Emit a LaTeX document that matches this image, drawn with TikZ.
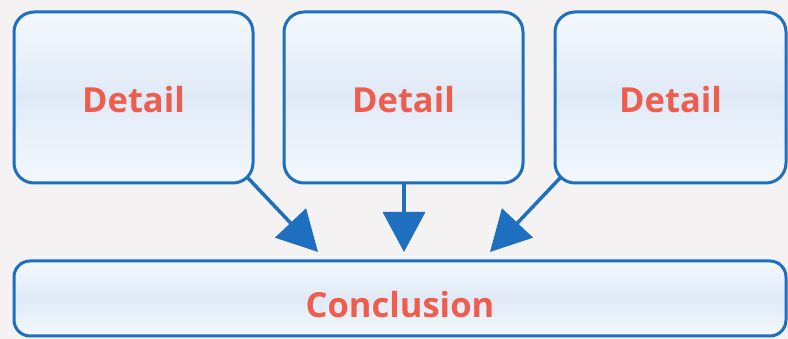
\documentclass[tikz,border=0pt]{standalone}
\usepackage{fontspec}
\setmainfont{Open Sans}
\usetikzlibrary{arrows.meta}
\definecolor{bg}{HTML}{F4F2F2}
\definecolor{edge}{HTML}{1E6FBF}
\definecolor{txt}{HTML}{EE5E4E}
\definecolor{fillmid}{HTML}{E0EAF7}
\definecolor{filltop}{HTML}{F3F8FD}
\tikzset{
  box/.style={draw=edge, line width=3pt, rounded corners=20pt,
    top color=filltop, bottom color=filltop, middle color=fillmid,
    text=txt, font=\fontsize{34.5}{38}\selectfont\bfseries, inner sep=0pt},
  conn/.style={draw=edge, line width=3.5pt, -{Triangle[length=40pt,width=42pt]}}
}
\begin{document}
\begin{tikzpicture}[x=1pt,y=-1pt]
\fill[bg] (0,0) rectangle (788,339);
\useasboundingbox (0,0) rectangle (788,339);
\node[box, minimum width=239pt, minimum height=171pt, text height=31pt, text depth=0pt] (b1) at (133.5,97.5) {Detail};
\node[box, minimum width=239pt, minimum height=171pt, text height=31pt, text depth=0pt] (b2) at (403.5,97.5) {Detail};
\node[box, minimum width=231pt, minimum height=171pt, text height=31pt, text depth=0pt] (b3) at (670.5,97.5) {Detail};
\node[box, minimum width=772pt, minimum height=75pt, rounded corners=16pt, text height=38pt, text depth=0pt] (c) at (400,298.5) {Conclusion};
\coordinate (a1) at (318,252);
\coordinate (a2) at (404,252);
\coordinate (a3) at (490,252);
\draw[conn] ([xshift=-7pt,yshift=7pt]b1.south east) -- (a1);
\draw[conn] (b2.south -| a2) -- (a2);
\draw[conn] ([xshift=7pt,yshift=7pt]b3.south west) -- (a3);
\end{tikzpicture}
\end{document}
